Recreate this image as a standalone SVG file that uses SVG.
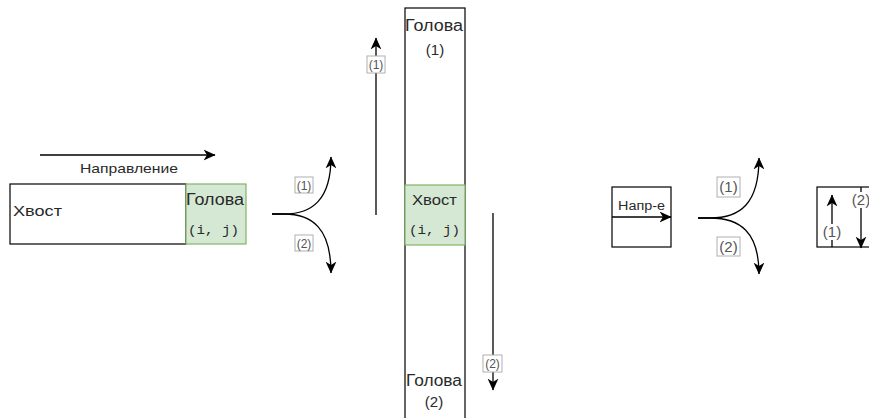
<svg xmlns="http://www.w3.org/2000/svg" width="869" height="418" viewBox="0 0 869 418">
  <style>
    .box { fill: #ffffff; stroke: #000000; stroke-width: 1.2; }
    .head { fill: #d5e8d4; stroke: #82b366; stroke-width: 1.2; }
    .txt { font-family: "Liberation Sans", Arial, sans-serif; fill: #2a2a2a; }
    .mono { font-family: "Liberation Mono", "Courier New", monospace; fill: #2a2a2a; }
    .edge { fill: none; stroke: #000000; stroke-width: 1.3; }
    .tag { fill: #ffffff; stroke: #b0b0b0; stroke-width: 1; }
    .tagtxt { font-family: "Liberation Sans", Arial, sans-serif; fill: #555555; text-anchor: middle; }
  </style>
  <defs>
    <marker id="arrow" viewBox="0 0 10 10" refX="9.5" refY="5" markerWidth="12" markerHeight="12" markerUnits="userSpaceOnUse" orient="auto">
      <path d="M0,0.5 L10,5 L0,9.5 L2.8,5 Z" fill="#000000"/>
    </marker>
  </defs>

  <!-- horizontal snake: tail + head -->
  <g id="snake-horizontal">
    <rect class="box" x="10" y="184" width="176" height="60"/>
    <text class="txt" x="13" y="216" font-size="14" textLength="49" lengthAdjust="spacingAndGlyphs">Хвост</text>
    <rect class="head" x="186" y="184" width="60" height="60"/>
    <text class="txt" x="186" y="205" font-size="16" textLength="58" lengthAdjust="spacingAndGlyphs">Голова</text>
    <text class="mono" x="188" y="234" font-size="13" textLength="51" lengthAdjust="spacingAndGlyphs">(i, j)</text>
  </g>

  <!-- vertical snake: two heads, tail in the middle -->
  <g id="snake-vertical">
    <rect class="box" x="405" y="8" width="60" height="430"/>
    <text class="txt" x="405" y="31" font-size="16" textLength="58" lengthAdjust="spacingAndGlyphs">Голова</text>
    <text class="txt" x="435" y="55" font-size="15" text-anchor="middle">(1)</text>
    <rect class="head" x="405" y="185" width="60" height="60"/>
    <text class="txt" x="412" y="205" font-size="15" textLength="45" lengthAdjust="spacingAndGlyphs">Хвост</text>
    <text class="mono" x="409" y="234" font-size="13" textLength="51" lengthAdjust="spacingAndGlyphs">(i, j)</text>
    <text class="txt" x="406" y="386" font-size="16" textLength="56" lengthAdjust="spacingAndGlyphs">Голова</text>
    <text class="txt" x="434" y="407" font-size="15" text-anchor="middle">(2)</text>
  </g>

  <!-- small direction box -->
  <g id="dir-box">
    <rect class="box" x="612" y="187" width="59" height="60"/>
    <line x1="612" y1="217" x2="671" y2="217" stroke="#000" stroke-width="1.3" marker-end="url(#arrow)"/>
    <text class="txt" x="618" y="210" font-size="12" textLength="47" lengthAdjust="spacingAndGlyphs">Напр-е</text>
  </g>

  <!-- cell box with both directions -->
  <g id="cell-box">
    <rect class="box" x="817" y="187" width="70" height="60"/>
  </g>

  <!-- "Направление" label -->
  <g id="dir-label">
    <text class="txt" x="80" y="173" font-size="13" textLength="98" lengthAdjust="spacingAndGlyphs">Направление</text>
  </g>

  <g id="connectors">
    <!-- direction arrow above the horizontal snake -->
    <line class="edge" x1="40" y1="155" x2="215" y2="155" marker-end="url(#arrow)"/>

    <!-- left fork -->
    <path class="edge" d="M272,214 L284,214 C312,214 331,200 331,157" marker-end="url(#arrow)"/>
    <path class="edge" d="M272,214 L284,214 C312,214 331,228 331,273" marker-end="url(#arrow)"/>
    <rect class="tag" x="295" y="177" width="18" height="16"/>
    <text class="tagtxt" x="304" y="189.5" font-size="12">(1)</text>
    <rect class="tag" x="295" y="235" width="18" height="16"/>
    <text class="tagtxt" x="304" y="247.5" font-size="12">(2)</text>

    <!-- up arrow (1) -->
    <line class="edge" x1="376" y1="215" x2="376" y2="38" marker-end="url(#arrow)"/>
    <rect class="tag" x="367" y="56" width="18" height="17"/>
    <text class="tagtxt" x="376" y="69" font-size="12">(1)</text>

    <!-- down arrow (2) -->
    <line class="edge" x1="493" y1="213" x2="493" y2="390" marker-end="url(#arrow)"/>
    <rect class="tag" x="483" y="355" width="19" height="17"/>
    <text class="tagtxt" x="492.5" y="368" font-size="12">(2)</text>

    <!-- right fork -->
    <path class="edge" d="M698,218 L710,218 C740,218 759,204 759,158" marker-end="url(#arrow)"/>
    <path class="edge" d="M698,218 L710,218 C740,218 759,232 759,274" marker-end="url(#arrow)"/>
    <rect class="tag" x="717" y="177" width="23" height="20"/>
    <text class="tagtxt" x="728.5" y="192" font-size="15">(1)</text>
    <rect class="tag" x="717" y="237" width="23" height="19"/>
    <text class="tagtxt" x="728.5" y="252" font-size="15">(2)</text>

    <!-- arrows inside the cell box -->
    <line class="edge" x1="832" y1="247" x2="832" y2="195" marker-end="url(#arrow)"/>
    <rect x="822" y="224" width="20" height="16" fill="#ffffff"/>
    <text class="tagtxt" x="832" y="237" font-size="15">(1)</text>
    <line class="edge" x1="861" y1="187" x2="861" y2="248" marker-end="url(#arrow)"/>
    <rect x="851" y="192" width="20" height="16" fill="#ffffff"/>
    <text class="tagtxt" x="861" y="205" font-size="15">(2)</text>
  </g>
</svg>
